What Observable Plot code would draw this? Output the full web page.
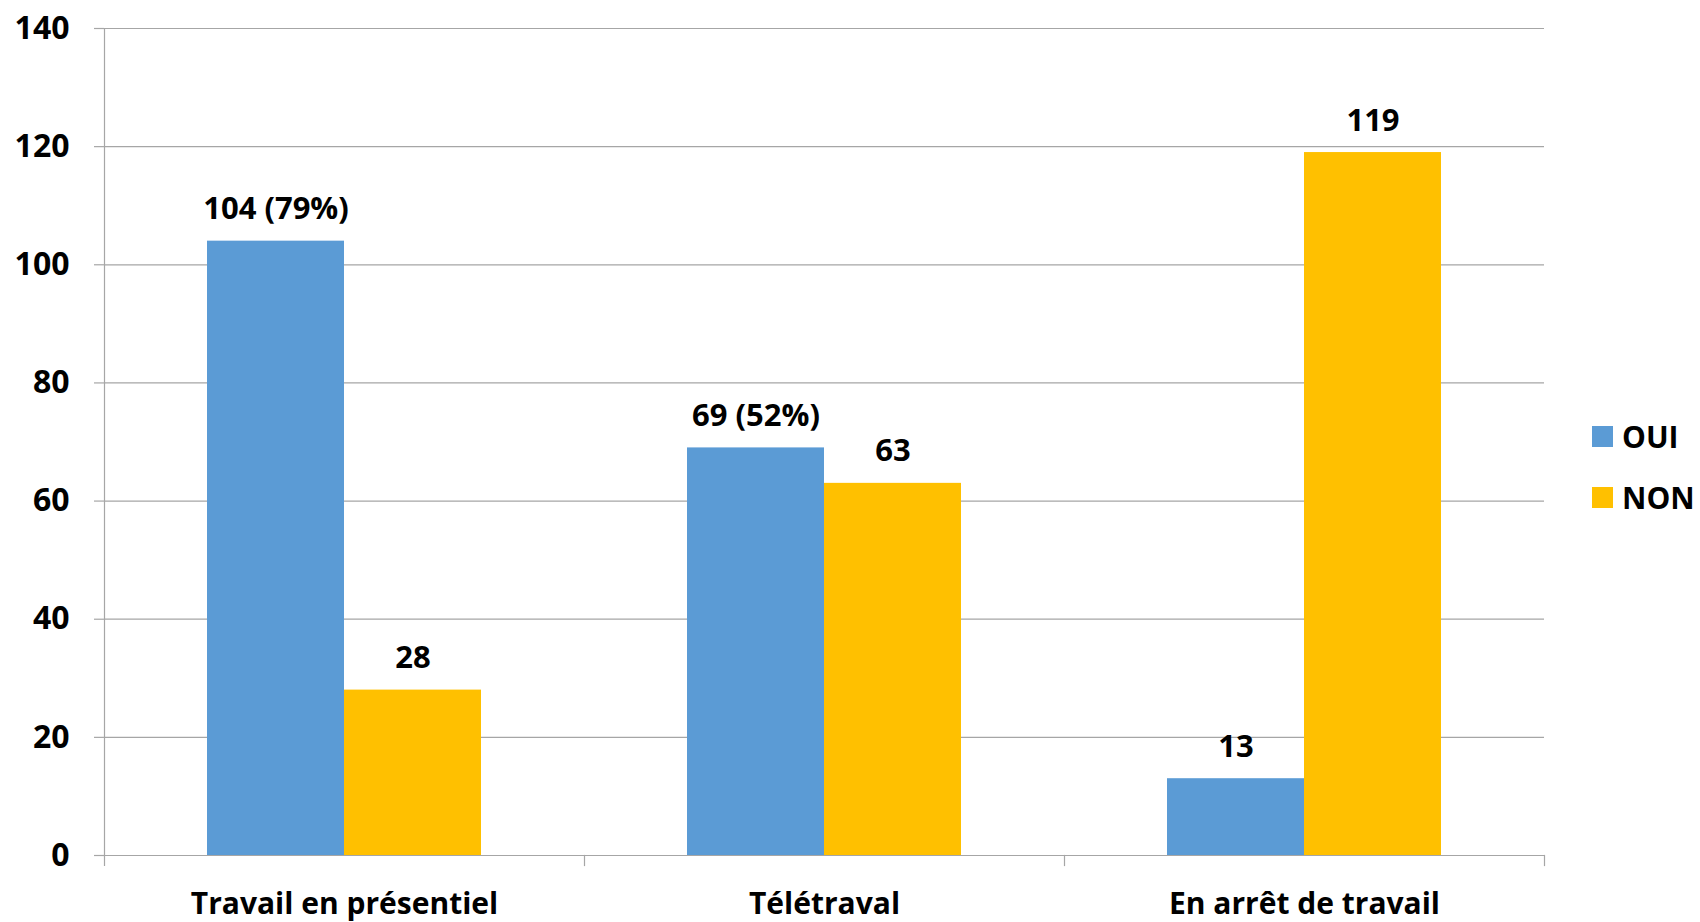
<!DOCTYPE html>
<html>
<head>
<meta charset="utf-8">
<script src="https://cdn.jsdelivr.net/npm/d3@7"></script>
<script src="https://cdn.jsdelivr.net/npm/@observablehq/plot@0.6"></script>
<style>
  body { margin: 0; background: #fff; }
  #wrap { position: relative; width: 1700px; height: 922px; overflow: hidden; font-family: "Open Sans", Lato, sans-serif; font-weight: 700; }
  .leg { position: absolute; left: 1592px; display: flex; align-items: center; font-size: 30px; color: #000; height: 22px; white-space: nowrap; }
  .sw { display: inline-block; width: 21px; height: 21px; margin-right: 9px; }
</style>
</head>
<body>
<div id="wrap"></div>
<script>
const categories = ["Travail en présentiel", "Télétraval", "En arrêt de travail"];
const series = ["OUI", "NON"];
const colors = ["#5B9BD5", "#FFC000"];
const ouiValues = [104, 69, 13];
const nonValues = [28, 63, 119];
const ouiLabels = ["104 (79%)", "69 (52%)", "13"];
const nonLabels = ["28", "63", "119"];
const yTicks = [0, 20, 40, 60, 80, 100, 120, 140];

const data = categories.flatMap((c, i) => [
  {cat: c, series: series[0], value: ouiValues[i], label: ouiLabels[i]},
  {cat: c, series: series[1], value: nonValues[i], label: nonLabels[i]}
]);

const gray = "#a6a6a6";
const fs = 30;
const W = 1700, H = 922, mT = 28, mB = 67, mL = 103, mR = 155;

const chart = Plot.plot({
  width: W, height: H,
  marginTop: mT, marginBottom: mB, marginLeft: mL, marginRight: mR,
  style: {fontFamily: "'Open Sans', Lato, sans-serif", fontWeight: 700, fontSize: fs + "px", color: "#000", background: "#fff", overflow: "visible"},
  fx: {domain: categories, padding: 0, label: null},
  x: {domain: series, paddingInner: 0, paddingOuter: 0.75, axis: null},
  y: {domain: [0, 140], label: null},
  color: {domain: series, range: colors},
  marks: [
    Plot.gridY(yTicks, {stroke: gray, strokeOpacity: 1, strokeWidth: 1.2}),
    Plot.frame({anchor: "left", stroke: gray, strokeOpacity: 1, strokeWidth: 1.2, insetBottom: -10, facetAnchor: "left"}),
    Plot.frame({anchor: "right", stroke: gray, strokeOpacity: 1, strokeWidth: 1.2, insetTop: H - mT - mB, insetBottom: -10}),
    Plot.barY(data, {fx: "cat", x: "series", y: "value", fill: "series"}),
    Plot.text(data, {fx: "cat", x: "series", y: "value", text: "label", lineAnchor: "bottom", dy: -22, fill: "#000", fontSize: 31, fontWeight: 700}),
    Plot.axisY(yTicks, {tickSize: 10, tickPadding: 25, stroke: gray, strokeOpacity: 1, strokeWidth: 1.2, fill: "#000", fontSize: 32, fontWeight: 700, label: null, tickFormat: d => String(d)}),
    Plot.axisFx({anchor: "bottom", tickSize: 0, tickPadding: 37, fill: "#000", fontSize: fs, fontWeight: 700, label: null})
  ]
});

const wrap = document.getElementById("wrap");
wrap.appendChild(chart);

const legTops = [425, 486];
series.forEach((s, i) => {
  const d = document.createElement("div");
  d.className = "leg";
  d.style.top = legTops[i] + "px";
  const sw = document.createElement("span");
  sw.className = "sw";
  sw.style.background = colors[i];
  d.appendChild(sw);
  d.appendChild(document.createTextNode(s));
  wrap.appendChild(d);
});
</script>
</body>
</html>
